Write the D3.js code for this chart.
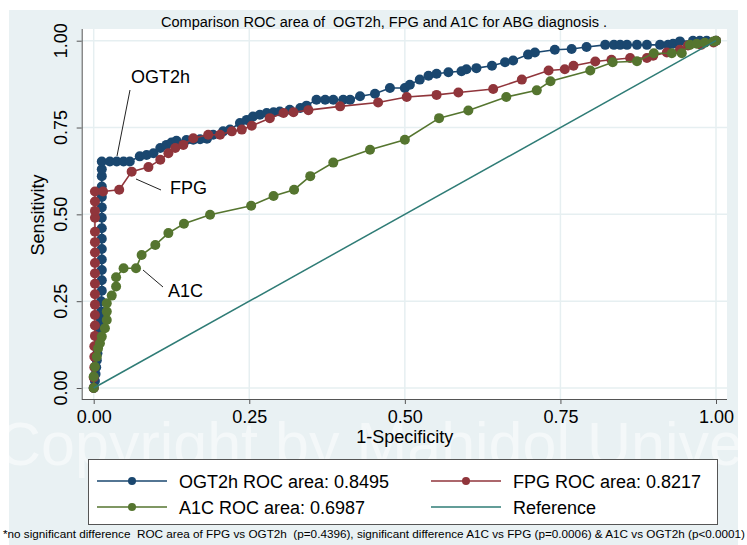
<!DOCTYPE html>
<html>
<head>
<meta charset="utf-8">
<script src="https://cdn.jsdelivr.net/npm/d3@7"></script>
<style>
  body { margin: 0; background: #fff; }
  text { font-family: "Liberation Sans", Arial, sans-serif; white-space: pre; }
</style>
</head>
<body>
<script>
// ROC points: [1-specificity, sensitivity]
var ogt2h = [[0,0],[0.002,0.02],[0.003,0.04],[0.004,0.06],[0.005,0.08],[0.006,0.10],[0.007,0.12],[0.008,0.14],
  [0.009,0.16],[0.010,0.18],[0.011,0.20],[0.012,0.22],[0.012,0.25],[0.013,0.28],[0.013,0.31],[0.013,0.34],
  [0.013,0.37],[0.013,0.40],[0.013,0.43],[0.013,0.46],[0.013,0.49],[0.013,0.52],[0.013,0.55],[0.013,0.58],
  [0.013,0.61],[0.013,0.63],[0.013,0.652],[0.026,0.652],[0.037,0.652],[0.048,0.652],[0.058,0.652],
  [0.074,0.667],[0.085,0.671],[0.096,0.676],[0.107,0.691],[0.117,0.700],[0.125,0.707],[0.133,0.712],
  [0.149,0.714],[0.160,0.715],[0.171,0.716],[0.182,0.718],[0.192,0.729],[0.208,0.739],[0.219,0.744],
  [0.235,0.763],[0.246,0.772],[0.256,0.782],[0.267,0.787],[0.278,0.792],[0.289,0.794],[0.299,0.796],
  [0.315,0.801],[0.332,0.806],[0.342,0.813],[0.358,0.830],[0.372,0.830],[0.385,0.830],[0.401,0.830],
  [0.412,0.830],[0.428,0.840],[0.452,0.847],[0.476,0.864],[0.500,0.864],[0.508,0.873],[0.524,0.888],
  [0.538,0.899],[0.551,0.905],[0.570,0.909],[0.591,0.912],[0.599,0.918],[0.615,0.921],[0.640,0.928],
  [0.661,0.938],[0.674,0.943],[0.698,0.960],[0.709,0.966],[0.741,0.974],[0.768,0.976],[0.792,0.982],
  [0.822,0.988],[0.836,0.988],[0.846,0.988],[0.857,0.988],[0.873,0.988],[0.889,0.988],[0.910,0.988],
  [0.923,0.988],[0.931,0.991],[0.942,0.998],[0.963,1],[0.974,1],[0.985,1],[1,1]];

var fpg = [[0,0],[0,0.03],[0.001,0.06],[0.001,0.09],[0.001,0.12],[0.002,0.15],[0.002,0.18],[0.002,0.21],
  [0.002,0.24],[0.002,0.27],[0.002,0.30],[0.002,0.33],[0.002,0.36],[0.002,0.39],[0.002,0.42],[0.002,0.45],
  [0.002,0.49],[0.002,0.51],[0.002,0.537],[0.002,0.566],[0.015,0.566],[0.041,0.571],[0.061,0.623],
  [0.088,0.636],[0.107,0.657],[0.120,0.676],[0.131,0.691],[0.144,0.700],[0.160,0.719],[0.184,0.729],
  [0.203,0.729],[0.222,0.739],[0.238,0.744],[0.254,0.755],[0.283,0.777],[0.305,0.792],[0.321,0.794],
  [0.345,0.800],[0.396,0.811],[0.457,0.822],[0.503,0.838],[0.551,0.844],[0.586,0.851],[0.642,0.861],
  [0.688,0.888],[0.731,0.914],[0.757,0.918],[0.771,0.928],[0.806,0.940],[0.832,0.945],[0.862,0.950],
  [0.889,0.950],[0.899,0.957],[0.921,0.966],[0.942,0.974],[0.955,0.986],[0.976,0.988],[0.996,0.995],[1,1]];

var a1c = [[0,0],[0,0.033],[0.002,0.061],[0.005,0.090],[0.007,0.114],[0.010,0.129],[0.013,0.148],
  [0.018,0.172],[0.021,0.196],[0.021,0.220],[0.021,0.244],[0.029,0.266],[0.036,0.292],[0.036,0.319],
  [0.048,0.345],[0.068,0.345],[0.077,0.383],[0.099,0.412],[0.120,0.446],[0.145,0.473],[0.187,0.499],
  [0.253,0.525],[0.289,0.553],[0.322,0.571],[0.348,0.610],[0.385,0.649],[0.444,0.686],[0.500,0.715],
  [0.555,0.777],[0.602,0.799],[0.663,0.838],[0.712,0.857],[0.734,0.883],[0.798,0.914],[0.834,0.938],
  [0.873,0.941],[0.900,0.964],[0.929,0.964],[0.945,0.964],[0.958,0.988],[0.969,0.991],[0.982,0.994],
  [0.996,0.998],[1,1]];

var refLine = [[0,0],[1,1]];

var ticks = [0, 0.25, 0.5, 0.75, 1];
var tickLabels = ["0.00", "0.25", "0.50", "0.75", "1.00"];

var series = [
  {name: "OGT2h", label: "OGT2h ROC area: 0.8495", pts: ogt2h, color: "#1a476f"},
  {name: "FPG", label: "FPG ROC area: 0.8217", pts: fpg, color: "#90353b"},
  {name: "A1C", label: "A1C ROC area: 0.6987", pts: a1c, color: "#55752f"}
];
var refColor = "#2f7c76";

var width = 747, height = 545;

var svg = d3.select("body").append("svg")
    .attr("width", width)
    .attr("height", height);

// graph region
svg.append("rect").attr("x", 9).attr("y", 10).attr("width", 729).attr("height", 535)
    .attr("fill", "#e9f1f3");

// watermark
svg.append("text")
    .attr("x", -3).attr("y", 465)
    .style("font-size", "61px")
    .attr("fill", "#ffffff").attr("fill-opacity", 0.5)
    .text("Copyright by Mahidol University");

var x = d3.scaleLinear().domain([0, 1]).range([93.7, 716]);
var y = d3.scaleLinear().domain([0, 1]).range([388, 40.7]);

// plot region
svg.append("rect").attr("x", 82).attr("y", 29).attr("width", 645).attr("height", 370)
    .attr("fill", "#fff");

var grid = svg.append("g").attr("stroke", "#e6eff1").attr("stroke-width", 1.5);
grid.selectAll("line.gx").data(ticks).enter().append("line")
    .attr("x1", function(d){ return x(d); }).attr("x2", function(d){ return x(d); })
    .attr("y1", 29).attr("y2", 399);
grid.selectAll("line.gy").data(ticks).enter().append("line")
    .attr("y1", function(d){ return y(d); }).attr("y2", function(d){ return y(d); })
    .attr("x1", 82).attr("x2", 727);

// axes
var xAxis = d3.axisBottom(x).tickValues(ticks).tickSize(5).tickPadding(6)
    .tickFormat(function(d, i){ return tickLabels[i]; });
var gx = svg.append("g").attr("transform", "translate(0,399)").call(xAxis);
gx.select(".domain").attr("d", "M81.7,0.5H727");
gx.selectAll("line").attr("stroke", "#555");
gx.select(".domain").attr("stroke", "#555");
gx.selectAll("text").style("font-size", "18px").style("font-family", "Liberation Sans, Arial, sans-serif")
    .attr("fill", "#000");

var yAxis = d3.axisLeft(y).tickValues(ticks).tickSize(5).tickFormat("");
var gy = svg.append("g").attr("transform", "translate(81.7,0)").call(yAxis);
gy.select(".domain").attr("d", "M0.5,29V399").attr("stroke", "#555");
gy.selectAll("line").attr("stroke", "#555");

svg.selectAll("text.ytl").data(ticks).enter().append("text")
    .attr("class", "ytl")
    .attr("transform", function(d){ return "translate(67," + y(d) + ") rotate(-90)"; })
    .attr("text-anchor", "middle")
    .style("font-size", "18px")
    .text(function(d, i){ return tickLabels[i]; });

svg.append("text").attr("x", x(0.5)).attr("y", 443).attr("text-anchor", "middle")
    .style("font-size", "18px").text("1-Specificity");
svg.append("text").attr("transform", "translate(44,215) rotate(-90)").attr("text-anchor", "middle")
    .style("font-size", "18px").text("Sensitivity");

// title
svg.append("text").attr("x", 161).attr("y", 27)
    .attr("textLength", 446).attr("lengthAdjust", "spacingAndGlyphs")
    .style("font-size", "14px")
    .text("Comparison ROC area of  OGT2h, FPG and A1C for ABG diagnosis .");

// curves
var line = d3.line().x(function(d){ return x(d[0]); }).y(function(d){ return y(d[1]); });

series.forEach(function(s){
  var g = svg.append("g");
  g.append("path").datum(s.pts).attr("d", line)
      .attr("fill", "none").attr("stroke", s.color).attr("stroke-width", 1.6);
  g.selectAll("circle").data(s.pts).enter().append("circle")
      .attr("cx", function(d){ return x(d[0]); })
      .attr("cy", function(d){ return y(d[1]); })
      .attr("r", 5)
      .attr("fill", s.color);
});

svg.append("path").datum(refLine).attr("d", line)
    .attr("fill", "none").attr("stroke", refColor).attr("stroke-width", 1.5);

// annotations
var notes = [
  {text: "OGT2h", tx: 131, ty: 83, l: [130, 90, 117, 156]},
  {text: "FPG", tx: 170, ty: 194, l: [161, 190, 136, 179]},
  {text: "A1C", tx: 168, ty: 297, l: [163, 287, 143, 270]}
];
notes.forEach(function(n){
  svg.append("line").attr("x1", n.l[0]).attr("y1", n.l[1]).attr("x2", n.l[2]).attr("y2", n.l[3])
      .attr("stroke", "#222").attr("stroke-width", 1);
  svg.append("text").attr("x", n.tx).attr("y", n.ty).style("font-size", "18px").text(n.text);
});

// legend
var lg = svg.append("g");
lg.append("rect").attr("x", 88.5).attr("y", 459.5).attr("width", 629).attr("height", 65)
    .attr("fill", "#fff").attr("stroke", "#555").attr("stroke-width", 1);

var legendItems = [
  {label: series[0].label, color: series[0].color, marker: true, lx: 97, ly: 481},
  {label: series[1].label, color: series[1].color, marker: true, lx: 431, ly: 481},
  {label: series[2].label, color: series[2].color, marker: true, lx: 97, ly: 507},
  {label: "Reference", color: refColor, marker: false, lx: 431, ly: 507}
];
legendItems.forEach(function(it){
  lg.append("line").attr("x1", it.lx).attr("x2", it.lx + 70).attr("y1", it.ly).attr("y2", it.ly)
      .attr("stroke", it.color).attr("stroke-width", 1.5);
  if (it.marker) {
    lg.append("circle").attr("cx", it.lx + 35).attr("cy", it.ly).attr("r", 4).attr("fill", it.color);
  }
  lg.append("text").attr("x", it.lx + 82).attr("y", it.ly + 6.5).style("font-size", "18px").text(it.label);
});

// footnote
svg.append("text").attr("x", 3).attr("y", 538)
    .attr("textLength", 742).attr("lengthAdjust", "spacingAndGlyphs")
    .style("font-size", "10.5px")
    .text("*no significant difference  ROC area of FPG vs OGT2h  (p=0.4396), significant difference A1C vs FPG (p=0.0006) & A1C vs OGT2h (p<0.0001)");
</script>
</body>
</html>
